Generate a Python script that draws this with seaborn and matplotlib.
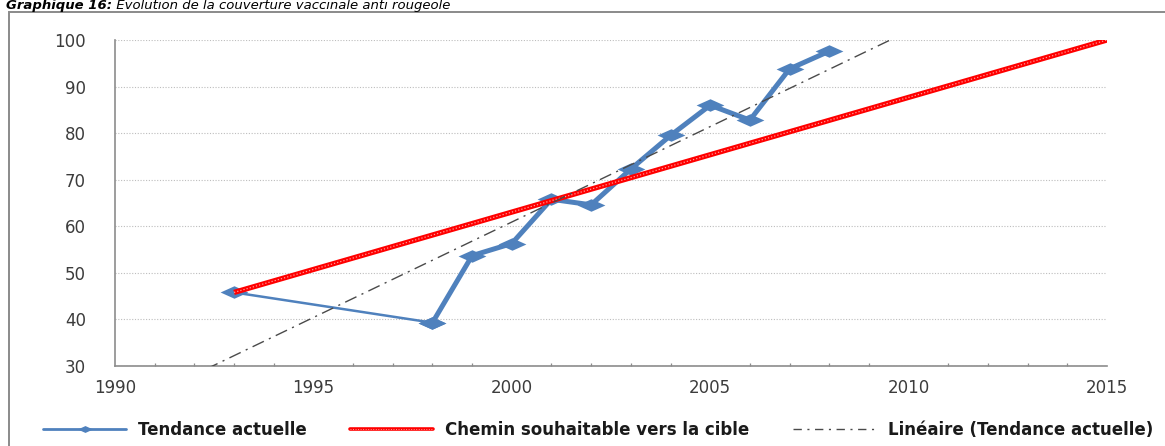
import numpy as np
import pandas as pd
import matplotlib
matplotlib.use("Agg")
import matplotlib.pyplot as plt
import seaborn as sns
from matplotlib.path import Path
from matplotlib.lines import Line2D
from matplotlib.patches import Rectangle
from matplotlib.legend_handler import HandlerTuple
from matplotlib.ticker import MultipleLocator

# Couverture vaccinale observée (%)
years = [1993, 1998, 1999, 2000, 2001, 2002, 2003, 2004, 2005, 2006, 2007, 2008]
coverage = [45.8, 39.3, 53.7, 56.3, 65.8, 64.6, 72.3, 79.5, 86.0, 82.8, 93.8, 97.6]

# Chemin souhaitable vers la cible de 100 % en 2015
target_years = [1993, 2015]
target_values = [45.8, 100.0]

x_ticks = [1990, 1995, 2000, 2005, 2010, 2015]
y_ticks = [30, 40, 50, 60, 70, 80, 90, 100]

title_bold = "Graphique 16:"
title_rest = " Evolution de la couverture vaccinale anti rougeole"
legend_labels = ["Tendance actuelle", "Chemin souhaitable vers la cible",
                 "Linéaire (Tendance actuelle)"]

BLUE = "#4F81BD"
RED = "#FF0000"
TREND = "#4a4a4a"
TXT = "#3c3c3c"
AXIS = "#8c8c8c"

sns.set_theme(style="white")
plt.rcParams["font.family"] = ["DejaVu Sans"]

W, H = 1165, 446
fig = plt.figure(figsize=(W / 100, H / 100), dpi=100)
ax = fig.add_axes([115 / W, 1 - 366 / H, (1107 - 115) / W, (366 - 40) / H])

# flattened diamond marker
diamond = Path([(-1, 0), (0, 0.45), (1, 0), (0, -0.45), (-1, 0)],
               [Path.MOVETO, Path.LINETO, Path.LINETO, Path.LINETO, Path.CLOSEPOLY])

df = pd.DataFrame({"year": years, "coverage": coverage})
first = df.iloc[:2]
rest = df.iloc[1:]

sns.lineplot(data=first, x="year", y="coverage", ax=ax, color=BLUE, lw=1.8,
             marker=diamond, markersize=20, markeredgewidth=0, sort=False,
             zorder=3)
sns.lineplot(data=rest, x="year", y="coverage", ax=ax, color=BLUE, lw=3.6,
             marker=diamond, markersize=20, markeredgewidth=0, sort=False,
             zorder=3)

# target path, textured red
tdf = pd.DataFrame({"year": target_years, "value": target_values})
sns.lineplot(data=tdf, x="year", y="value", ax=ax, color=RED, lw=3.8,
             solid_capstyle="butt", zorder=4)
sns.lineplot(data=tdf, x="year", y="value", ax=ax, color="#ff9a9a", lw=0.9,
             linestyle=(0, (1, 1.6)), zorder=5)

# linear trend of the observed series
slope, intercept = np.polyfit(years, coverage, 1)
trend_x = np.array([1985.0, 2020.0])
trend = pd.DataFrame({"year": trend_x, "value": slope * trend_x + intercept})
sns.lineplot(data=trend, x="year", y="value", ax=ax, color=TREND, lw=1.0,
             linestyle=(0, (9, 4, 1.5, 4)), zorder=6)

ax.set_xlim(1990, 2015)
ax.set_ylim(30, 100)
ax.set_xticks(x_ticks)
ax.set_yticks(y_ticks)
ax.xaxis.set_minor_locator(MultipleLocator(1))
ax.set_xlabel("")
ax.set_ylabel("")

ax.grid(axis="y", color="#bdbdbd", linestyle=(0, (1, 1.5)), lw=0.8)
ax.set_axisbelow(True)
for s in ["top", "right"]:
    ax.spines[s].set_visible(False)
for s in ["left", "bottom"]:
    ax.spines[s].set_color(AXIS)
    ax.spines[s].set_linewidth(1.2)

ax.tick_params(axis="y", which="major", direction="out", length=7, width=1,
               color=AXIS, labelsize=12, labelcolor=TXT, pad=14)
ax.tick_params(axis="x", which="major", direction="inout", length=7, width=1,
               color=AXIS, labelsize=12, labelcolor=TXT, pad=6)
ax.tick_params(axis="x", which="minor", direction="in", length=2.5, width=0.9,
               color=AXIS, bottom=True)
if ax.get_legend():
    ax.get_legend().remove()

# legend along the bottom
h_blue = Line2D([], [], color=BLUE, lw=2, marker=diamond, markersize=11,
                markeredgewidth=0)
h_red = (Line2D([], [], color=RED, lw=2.6),
         Line2D([], [], color="#ff9a9a", lw=0.7, linestyle=(0, (1, 1.6))))
h_trend = Line2D([], [], color=TREND, lw=1.0, linestyle=(0, (6, 4, 1.5, 4)))
fig.legend([h_blue, h_red, h_trend], legend_labels,
           handler_map={tuple: HandlerTuple(ndivide=1, pad=0)},
           loc="center", bbox_to_anchor=(598 / W, 1 - 430 / H), ncol=3,
           frameon=False, handlelength=5.0, handletextpad=0.7,
           columnspacing=2.6, prop={"size": 12, "weight": "bold"},
           labelcolor="#1a1a1a")

# outer chart frame
fig.add_artist(Rectangle((8.5 / W, -0.1), 1.2, 1 - 11.5 / H + 0.1,
                         transform=fig.transFigure, fill=False,
                         edgecolor="#8a8a8a", lw=1.4, clip_on=False))

# heading above the chart
base = 1 - 9 / H
t1 = fig.text(6 / W, base, title_bold, fontsize=9.5, fontweight="bold",
              style="italic", va="baseline", ha="left", color="black")
fig.canvas.draw()
bb = t1.get_window_extent(fig.canvas.get_renderer())
fig.text(bb.x1 / W, base, title_rest, fontsize=9.5, style="italic",
         va="baseline", ha="left", color="black")

fig.savefig("out.png", dpi=100)
